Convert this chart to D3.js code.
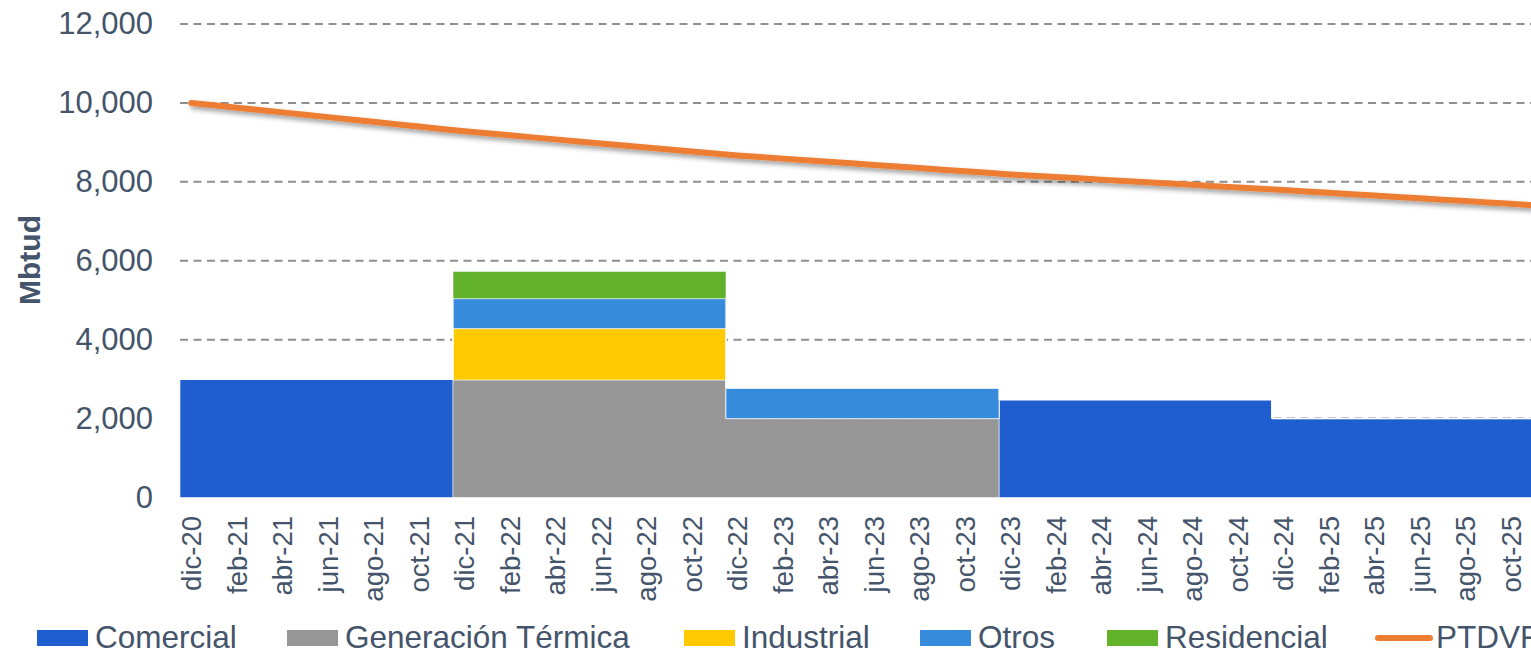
<!DOCTYPE html>
<html>
<head>
<meta charset="utf-8">
<script src="https://cdn.jsdelivr.net/npm/d3@7"></script>
<style>
  body { margin: 0; background: #fff; }
  svg { display: block; font-family: "Liberation Sans", Arial, sans-serif; }
</style>
</head>
<body>
<div id="chart"></div>
<script>
// month abbreviations and years used for the x axis (dic-20 .. dic-25)
var monthAbbr = ["ene", "feb", "mar", "abr", "may", "jun", "jul", "ago", "sep", "oct", "nov", "dic"];
var firstYear = 20, lastYear = 25;

// yearly blocks (each starts in december and lasts 12 months)
var periods = ["dic-20", "dic-21", "dic-22", "dic-23", "dic-24"];
var comercial   = [3000,    0,    0, 2480, 2000];
var generacion  = [   0, 2980, 2000,    0,    0];
var industrial  = [   0, 1300,    0,    0,    0];
var otros       = [   0,  760,  770,    0,    0];
var residencial = [   0,  690,    0,    0,    0];

// PTDVF, monthly from dic-20
var ptdvf = [10000,
  9940, 9880, 9820, 9760, 9700, 9640, 9580, 9520, 9460, 9400, 9340, 9280,
  9229, 9178, 9127, 9076, 9025, 8974, 8923, 8872, 8821, 8770, 8719, 8668,
  8628, 8588, 8548, 8508, 8468, 8428, 8388, 8348, 8308, 8268, 8228, 8188,
  8155, 8122, 8089, 8056, 8023, 7990, 7957, 7924, 7891, 7858, 7825, 7792,
  7757, 7722, 7687, 7652, 7617, 7582, 7547, 7512, 7477, 7442, 7407, 7372];

var yTicks = [0, 2000, 4000, 6000, 8000, 10000, 12000];

var seriesNames = ["Comercial", "Generación Térmica", "Industrial", "Otros", "Residencial"];
var seriesColors = ["#1f5ecf", "#969696", "#ffc900", "#368bdd", "#62b32b"];
var lineColor = "#ed7d31";
var textColor = "#44546a";

// month list
var months = ["dic-" + firstYear];
for (var yy = firstYear + 1; yy <= lastYear; yy++) {
    monthAbbr.forEach(function (m) { months.push(m + "-" + yy); });
}

var W = 1531, H = 654;
var left = 180, monthW = 22.75;

var svg = d3.select("#chart").append("svg")
    .attr("width", W)
    .attr("height", H);

var defs = svg.append("defs");
var f = defs.append("filter").attr("id", "shadow")
    .attr("x", "-5%").attr("y", "-50%").attr("width", "110%").attr("height", "200%");
f.append("feDropShadow")
    .attr("dx", 2).attr("dy", 3).attr("stdDeviation", 2.5)
    .attr("flood-color", "#000").attr("flood-opacity", 0.4);

var x = d3.scaleBand()
    .domain(months)
    .range([left, left + months.length * monthW])
    .padding(0);

var y = d3.scaleLinear()
    .domain([0, 12000])
    .range([497.5, 24]);

// gridlines
svg.append("g")
    .selectAll("line")
    .data(yTicks.filter(function (d) { return d > 0; }))
    .enter()
    .append("line")
    .attr("x1", left)
    .attr("x2", W)
    .attr("y1", function (d) { return y(d); })
    .attr("y2", function (d) { return y(d); })
    .attr("stroke", "#8f8f8f")
    .attr("stroke-width", 2)
    .attr("stroke-dasharray", "8,5.5");

// y axis labels
var yAxis = d3.axisLeft(y).tickValues(yTicks).tickSize(0).tickPadding(0)
    .tickFormat(d3.format(","));
var gy = svg.append("g")
    .attr("transform", "translate(153,0)")
    .call(yAxis);
gy.select(".domain").remove();
gy.selectAll("text")
    .attr("fill", textColor)
    .style("font-size", "31px")
    .style("font-family", "'Liberation Sans', Arial, sans-serif");

// stacked step areas
var table = periods.map(function (p, i) {
    return {
        period: p,
        "Comercial": comercial[i],
        "Generación Térmica": generacion[i],
        "Industrial": industrial[i],
        "Otros": otros[i],
        "Residencial": residencial[i]
    };
});
// closing point at the end of the last block
var endRow = Object.assign({}, table[table.length - 1], { period: "end" });
table.push(endRow);

var stack = d3.stack().keys(seriesNames);
var stacked = stack(table);

var xPeriod = function (d) {
    if (d.data.period === "end") return x.range()[1];
    return x(d.data.period);
};

var area = d3.area()
    .curve(d3.curveStepAfter)
    .x(xPeriod)
    .y0(function (d) { return y(d[0]); })
    .y1(function (d) { return y(d[1]); });

svg.append("g")
    .selectAll("path")
    .data(stacked)
    .enter()
    .append("path")
    .attr("d", area)
    .attr("fill", function (d, i) { return seriesColors[i]; })
    .attr("stroke", "rgba(255,255,255,0.55)")
    .attr("stroke-width", 1);

// x axis labels
var xAxis = d3.axisBottom(x)
    .tickValues(months.filter(function (d, i) { return i % 2 === 0; }))
    .tickSize(0).tickPadding(0);
var gx = svg.append("g")
    .attr("transform", "translate(0,497)")
    .call(xAxis);
gx.select(".domain").remove();
gx.selectAll("text")
    .attr("fill", textColor)
    .style("font-size", "27.5px")
    .style("font-family", "'Liberation Sans', Arial, sans-serif")
    .attr("text-anchor", "end")
    .attr("dy", "0.35em")
    .attr("y", 0)
    .attr("transform", "translate(0,19) rotate(-90)");

// PTDVF line
var line = d3.line()
    .x(function (d, i) { return x(months[i]) + x.bandwidth() / 2; })
    .y(function (d) { return y(d); });

svg.append("path")
    .datum(ptdvf)
    .attr("d", line)
    .attr("fill", "none")
    .attr("stroke", lineColor)
    .attr("stroke-width", 6)
    .attr("stroke-linecap", "round")
    .attr("stroke-linejoin", "round")
    .attr("filter", "url(#shadow)");

// y axis title
svg.append("text")
    .attr("transform", "translate(40,260) rotate(-90)")
    .attr("text-anchor", "middle")
    .attr("fill", textColor)
    .style("font-size", "30px")
    .style("font-weight", "bold")
    .text("Mbtud");

// legend
var legendX = [37, 287, 684, 920, 1107];
var legend = svg.append("g");
seriesNames.forEach(function (name, i) {
    legend.append("rect")
        .attr("x", legendX[i])
        .attr("y", 630)
        .attr("width", 51)
        .attr("height", 16)
        .attr("fill", seriesColors[i]);
    legend.append("text")
        .attr("x", legendX[i] + 58)
        .attr("y", 648)
        .attr("fill", textColor)
        .style("font-size", "31.5px")
        .text(name);
});
legend.append("line")
    .attr("x1", 1378).attr("x2", 1430)
    .attr("y1", 638).attr("y2", 638)
    .attr("stroke", lineColor)
    .attr("stroke-width", 6)
    .attr("stroke-linecap", "round");
legend.append("text")
    .attr("x", 1436)
    .attr("y", 648)
    .attr("fill", textColor)
    .style("font-size", "31.5px")
    .text("PTDVF");
</script>
</body>
</html>
